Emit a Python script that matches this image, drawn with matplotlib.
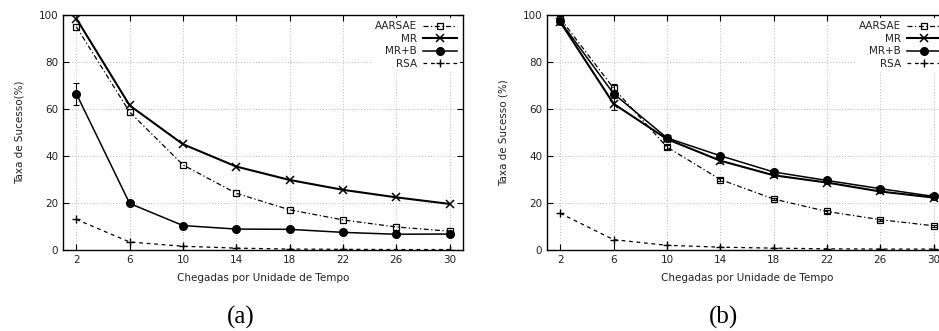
import matplotlib
matplotlib.use("Agg")
import matplotlib.pyplot as plt
import numpy as np

plt.rcParams['font.family'] = 'DejaVu Sans'
plt.rcParams['font.size'] = 7.5

chegadas = [2, 6, 10, 14, 18, 22, 26, 30]

# (a)
aarsae_a = [95.0, 58.7, 36.2, 24.1, 17.1, 12.8, 9.8, 8.0]
mr_a = [98.5, 61.5, 45.0, 35.5, 29.8, 25.6, 22.4, 19.6]
mrb_a = [66.5, 19.8, 10.4, 8.9, 8.8, 7.5, 6.7, 6.8]
rsa_a = [13.0, 3.4, 1.6, 0.8, 0.4, 0.3, 0.2, 0.2]
mrb_a_err = [4.6, 0.6, 0.4, 0.3, 0.3, 0.3, 0.3, 0.3]

# (b)
aarsae_b = [98.5, 68.8, 43.8, 30.0, 21.7, 16.4, 12.9, 10.3]
mr_b = [97.0, 62.2, 47.2, 38.0, 31.8, 28.7, 24.9, 22.3]
mrb_b = [97.3, 66.5, 47.7, 40.1, 33.2, 29.6, 26.1, 22.8]
rsa_b = [15.6, 4.4, 2.0, 1.2, 0.8, 0.5, 0.4, 0.4]
mr_b_err = [1.0, 2.6, 1.0, 0.8, 0.6, 0.5, 0.5, 0.5]
aarsae_b_err = [1.0, 1.8, 1.0, 0.6, 0.5, 0.5, 0.5, 0.5]

fig = plt.figure(figsize=(9.39, 3.31), dpi=100)
ax_a = fig.add_axes([0.0671, 0.2447, 0.426, 0.71])
ax_b = fig.add_axes([0.5825, 0.2447, 0.426, 0.71])


def painel(ax, aarsae, mr, mrb, rsa, ylabel, err_aarsae=None, err_mr=None, err_mrb=None):
    for vals, err in ((aarsae, err_aarsae), (mr, err_mr), (mrb, err_mrb)):
        if err is not None:
            ax.errorbar(chegadas, vals, yerr=err, fmt='none', ecolor='k',
                        elinewidth=0.8, capsize=2, capthick=0.8)
    ax.plot(chegadas, aarsae, color='k', lw=0.9,
            linestyle=(0, (4, 2, 1, 2)), marker='s', ms=5, mfc='none',
            mew=0.9, label='AARSAE')
    ax.plot(chegadas, mr, color='k', lw=1.5, marker='x',
            ms=5.5, mew=1.1, label='MR')
    ax.plot(chegadas, mrb, color='k', lw=1.1, marker='o',
            ms=5.5, label='MR+B')
    ax.plot(chegadas, rsa, color='k', lw=0.9, linestyle=(0, (3, 3)),
            marker='+', ms=6, mew=1.0, label='RSA')
    ax.set_xlim(1, 31)
    ax.set_ylim(0, 100)
    ax.set_xticks(chegadas)
    ax.set_yticks([0, 20, 40, 60, 80, 100])
    ax.grid(True, color='#bbbbbb', linestyle=(0, (1, 2)), linewidth=0.7)
    ax.set_axisbelow(True)
    ax.tick_params(direction='in', top=True, right=True, length=4, width=0.8,
                   colors='k', labelcolor='#222222')
    for s in ax.spines.values():
        s.set_linewidth(1.0)
    ax.set_xlabel('Chegadas por Unidade de Tempo', color='#222222', labelpad=6)
    ax.set_ylabel(ylabel, color='#222222', labelpad=10)
    leg = ax.legend(loc='upper right', markerfirst=False, frameon=True,
                    edgecolor='none', facecolor='white', framealpha=1,
                    fancybox=False, handlelength=3.2, handletextpad=0.6,
                    labelspacing=0.25, borderpad=0.3, borderaxespad=0.3)
    for t in leg.get_texts():
        t.set_color('#222222')


painel(ax_a, aarsae_a, mr_a, mrb_a, rsa_a, 'Taxa de Sucesso(%)', err_mrb=mrb_a_err)
painel(ax_b, aarsae_b, mr_b, mrb_b, rsa_b, 'Taxa de Sucesso (%)',
       err_aarsae=aarsae_b_err, err_mr=mr_b_err)

fig.text(241 / 939, 1 - 317 / 331, '(a)', family='Liberation Serif', fontsize=18,
         ha='center', va='center')
fig.text(724 / 939, 1 - 317 / 331, '(b)', family='Liberation Serif', fontsize=18,
         ha='center', va='center')

fig.savefig('out.png', dpi=100)
